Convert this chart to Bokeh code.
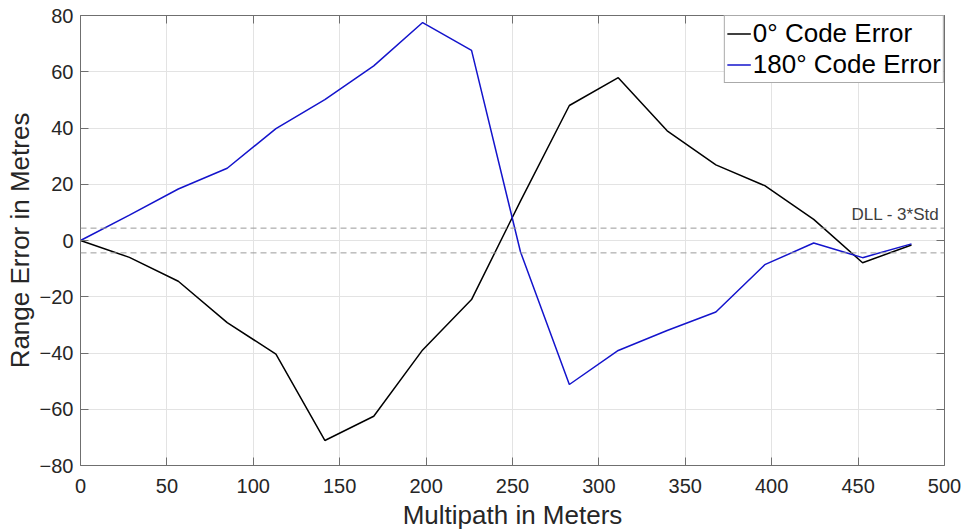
from bokeh.plotting import figure
from bokeh.models import (Span, LinearAxis, Legend, LegendItem, Range1d, FixedTicker,
                          ColumnDataSource, Label, CustomJSTickFormatter)
from bokeh.embed import file_html
from bokeh.resources import INLINE

# Data
multipath_m = [0, 28.3, 56.6, 84.9, 113.1, 141.4, 169.7, 198.0, 226.3, 254.6,
               282.9, 311.2, 339.5, 367.7, 396.0, 424.3, 452.6, 480.9]
err_0deg = [0, -6.0, -14.5, -29.2, -40.4, -71.1, -62.5, -38.9, -21.0, 14.0,
            48.0, 57.9, 39.0, 26.9, 19.5, 7.5, -7.9, -1.6]
err_180deg = [0, 9.0, 18.3, 25.7, 39.8, 50.1, 62.1, 77.5, 67.6, -4.0,
              -51.2, -39.1, -32.0, -25.4, -8.6, -0.9, -6.1, -1.2]
dll_bound = 4.4
x_ticks = [0, 50, 100, 150, 200, 250, 300, 350, 400, 450, 500]
y_ticks = [-80, -60, -40, -20, 0, 20, 40, 60, 80]

FONT = "Liberation Sans"
TXT = "#262626"
AX = "#6f6f6f"

src = ColumnDataSource(dict(x=multipath_m, e0=err_0deg, e180=err_180deg))

p = figure(width=971, height=532, output_backend="svg", toolbar_location=None,
           x_range=Range1d(0, 500), y_range=Range1d(-80, 80),
           min_border_left=80, min_border_right=27, min_border_top=15, min_border_bottom=66)
p.outline_line_color = None
p.background_fill_color = "white"
p.border_fill_color = "white"

for ax in (p.xaxis[0], p.yaxis[0]):
    ax.major_tick_in = 8
    ax.major_tick_out = 0
    ax.minor_tick_in = 0
    ax.minor_tick_out = 0
    ax.axis_line_color = AX
    ax.major_tick_line_color = AX
    ax.major_label_text_font = FONT
    ax.major_label_text_font_size = "20px"
    ax.major_label_text_color = TXT
    ax.axis_label_text_font = FONT
    ax.axis_label_text_font_size = "26px"
    ax.axis_label_text_font_style = "normal"
    ax.axis_label_text_color = TXT

p.xaxis.ticker = FixedTicker(ticks=x_ticks)
p.yaxis.ticker = FixedTicker(ticks=y_ticks)
p.xaxis.axis_label = "Multipath in Meters"
p.yaxis.axis_label = "Range Error in Metres"
p.xaxis.major_label_standoff = 13
p.yaxis.major_label_standoff = 7
p.xaxis.axis_label_standoff = 4
p.yaxis.axis_label_standoff = 2

blank = CustomJSTickFormatter(code="return ''")
# box axes (top & right) with inward ticks, no labels
top = LinearAxis(ticker=FixedTicker(ticks=x_ticks), major_tick_in=8, major_tick_out=0,
                 minor_tick_in=0, minor_tick_out=0, axis_line_color=AX, major_tick_line_color=AX,
                 formatter=blank, major_label_standoff=0)
right = LinearAxis(ticker=FixedTicker(ticks=y_ticks), major_tick_in=8, major_tick_out=0,
                   minor_tick_in=0, minor_tick_out=0, axis_line_color=AX, major_tick_line_color=AX,
                   formatter=blank, major_label_standoff=0)
p.add_layout(top, "above")
p.add_layout(right, "right")

p.xgrid.ticker = FixedTicker(ticks=x_ticks)
p.ygrid.ticker = FixedTicker(ticks=y_ticks)
p.grid.grid_line_color = "#e3e3e3"
p.grid.grid_line_width = 1

for yv in (dll_bound, -dll_bound):
    p.add_layout(Span(location=yv, dimension="width", line_color="#9a9a9a",
                      line_dash="6 4", line_width=1))

p.add_layout(Label(x=497, y=dll_bound, text="DLL - 3*Std", text_align="right",
                   text_baseline="bottom", y_offset=4, text_font=FONT,
                   text_font_size="17px", text_color="#404040"))

r0 = p.line("x", "e0", source=src, line_color="#000000", line_width=1.5)
r180 = p.line("x", "e180", source=src, line_color="#1414cc", line_width=1.5)

legend = Legend(items=[LegendItem(label="0° Code Error", renderers=[r0]),
                       LegendItem(label="180° Code Error", renderers=[r180])],
                location="top_right", margin=0, padding=2, spacing=0,
                glyph_width=24, glyph_height=31, label_height=31, label_standoff=2,
                label_text_font=FONT, label_text_font_size="26px", label_text_color="#000000",
                border_line_color="#555555", border_line_width=1,
                background_fill_color="white", background_fill_alpha=1)
p.add_layout(legend)

open("out.html", "w").write(file_html(p, INLINE))
